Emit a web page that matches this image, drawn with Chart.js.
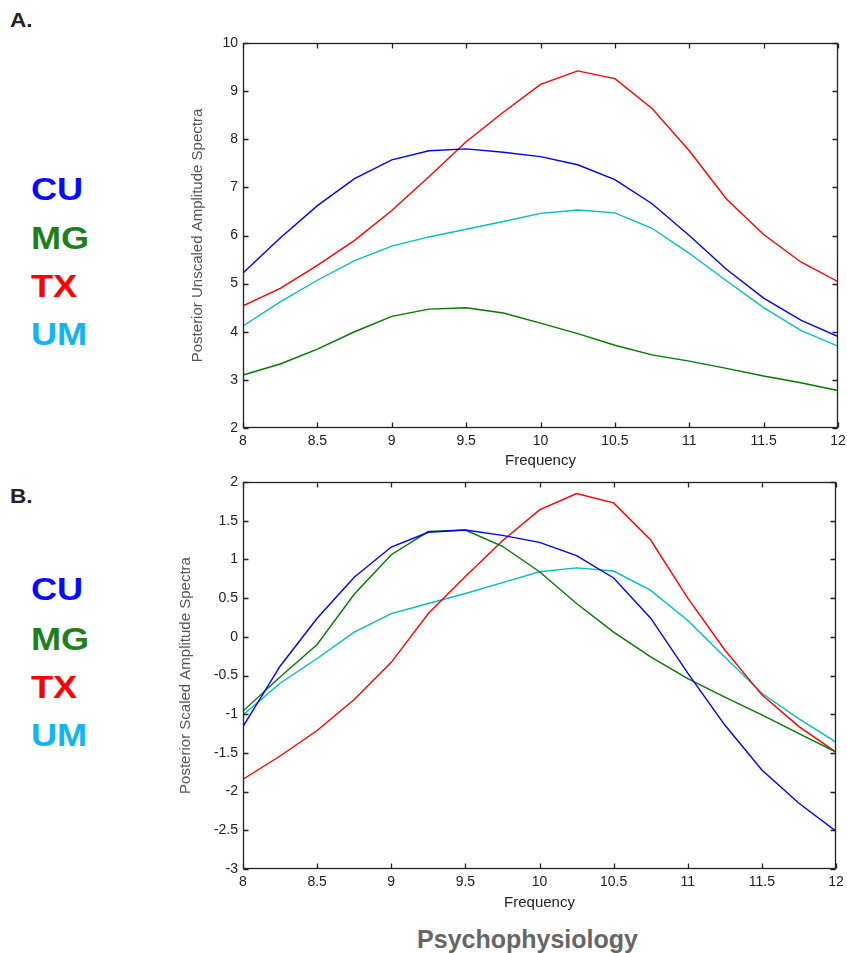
<!DOCTYPE html>
<html>
<head>
<meta charset="utf-8">
<script src="https://cdn.jsdelivr.net/npm/chart.js@4/dist/chart.umd.min.js"></script>
<style>
  body { margin: 0; background: #fff; width: 847px; height: 953px; position: relative; overflow: hidden;
         font-family: "Liberation Sans", Arial, sans-serif; }
  .box { position: absolute; left: 170px; width: 677px; height: 450px; }
  .lbl { position: absolute; font-weight: bold; white-space: nowrap; transform: scaleX(1.13); transform-origin: left top; }
  .panel { font-size: 20px; line-height: 20px; color: #222; left: 10px; }
  .grp { font-size: 32px; line-height: 32px; left: 31px; }
  .foot { position: absolute; left: 104px; width: 847px; top: 925px; text-align: center; font-weight: bold;
          font-size: 25px; color: #666; }
</style>
</head>
<body>
<div class="lbl panel" style="top:10px">A.</div>
<div class="lbl grp" style="top:173px;color:#0a0aff">CU</div>
<div class="lbl grp" style="top:222px;color:#1f7f1f">MG</div>
<div class="lbl grp" style="top:270px;color:#ff0000">TX</div>
<div class="lbl grp" style="top:318px;color:#14b4f0">UM</div>

<div class="lbl panel" style="top:486px">B.</div>
<div class="lbl grp" style="top:573px;color:#0a0aff">CU</div>
<div class="lbl grp" style="top:623px;color:#1f7f1f">MG</div>
<div class="lbl grp" style="top:671px;color:#ff0000">TX</div>
<div class="lbl grp" style="top:719px;color:#14b4f0">UM</div>

<div class="box" style="top:30px"><canvas id="chartA"></canvas></div>
<div class="box" style="top:470px"><canvas id="chartB"></canvas></div>
<div class="foot">Psychophysiology</div>

<script>
// frequency bins (Hz)
const freq = [8, 8.25, 8.5, 8.75, 9, 9.25, 9.5, 9.75, 10, 10.25, 10.5, 10.75, 11, 11.25, 11.5, 11.75, 12];

// A. posterior unscaled amplitude spectra
const unscaledCU = [5.22, 5.95, 6.62, 7.18, 7.57, 7.76, 7.80, 7.73, 7.64, 7.47, 7.16, 6.66, 6.00, 5.30, 4.70, 4.24, 3.90];
const unscaledMG = [3.10, 3.33, 3.64, 4.00, 4.32, 4.47, 4.50, 4.39, 4.18, 3.96, 3.72, 3.52, 3.39, 3.24, 3.08, 2.94, 2.78];
const unscaledTX = [4.54, 4.90, 5.38, 5.90, 6.52, 7.22, 7.95, 8.56, 9.14, 9.42, 9.26, 8.64, 7.76, 6.76, 6.02, 5.45, 5.04];
const unscaledUM = [4.12, 4.62, 5.07, 5.48, 5.78, 5.97, 6.13, 6.29, 6.46, 6.53, 6.47, 6.15, 5.63, 5.06, 4.50, 4.03, 3.70];

// B. posterior scaled amplitude spectra
const scaledCU = [-1.16, -0.38, 0.24, 0.77, 1.16, 1.35, 1.38, 1.31, 1.22, 1.05, 0.76, 0.24, -0.47, -1.14, -1.72, -2.15, -2.51];
const scaledMG = [-0.96, -0.52, -0.10, 0.55, 1.06, 1.36, 1.38, 1.17, 0.84, 0.43, 0.06, -0.26, -0.54, -0.78, -1.01, -1.25, -1.49];
const scaledTX = [-1.84, -1.54, -1.21, -0.81, -0.33, 0.30, 0.78, 1.24, 1.64, 1.85, 1.73, 1.25, 0.50, -0.17, -0.75, -1.16, -1.49];
const scaledUM = [-1.01, -0.60, -0.28, 0.06, 0.30, 0.43, 0.56, 0.70, 0.84, 0.89, 0.85, 0.60, 0.21, -0.26, -0.73, -1.06, -1.36];

const groups = ["CU", "MG", "TX", "UM"];
const lineColors = ["#0000ff", "#007a00", "#ff0000", "#00bfbf"];

Chart.defaults.font.family = '"Liberation Sans", Arial, sans-serif';

// matlab-like box with inward ticks on all four sides
const boxFrame = {
  id: "boxFrame",
  afterDraw(chart) {
    const { ctx, chartArea: a, scales: { x, y } } = chart;
    const L = Math.round(a.left) + 0.5, R = Math.round(a.right) - 0.5;
    const T = Math.round(a.top) + 0.5, B = Math.round(a.bottom) - 0.5;
    ctx.save();
    ctx.strokeStyle = "#222";
    ctx.lineWidth = 1.3;
    ctx.beginPath();
    x.ticks.forEach(t => {
      const px = Math.round(x.getPixelForValue(t.value)) + 0.5;
      ctx.moveTo(px, B); ctx.lineTo(px, B - 5);
      ctx.moveTo(px, T); ctx.lineTo(px, T + 5);
    });
    y.ticks.forEach(t => {
      const py = Math.round(y.getPixelForValue(t.value)) + 0.5;
      ctx.moveTo(L, py); ctx.lineTo(L + 5, py);
      ctx.moveTo(R, py); ctx.lineTo(R - 5, py);
    });
    ctx.stroke();
    ctx.strokeRect(L, T, R - L, B - T);
    ctx.restore();
  }
};

const plain = v => String(Math.round(v * 100) / 100);

function makeChart(id, series, yMin, yMax, yStep, yTitle, geo) {
  const datasets = series.map((vals, i) => ({
    label: groups[i],
    data: freq.map((f, k) => ({ x: f, y: vals[k] })),
    borderColor: lineColors[i],
    borderWidth: 1.4,
    pointRadius: 0,
    tension: 0,
    fill: false
  }));
  return new Chart(document.getElementById(id), {
    type: "line",
    data: { datasets },
    options: {
      responsive: true,
      maintainAspectRatio: false,
      animation: false,
      layout: { padding: { top: geo.top, right: 677 - geo.right, left: 0, bottom: 0 } },
      plugins: { legend: { display: false }, tooltip: { enabled: false } },
      scales: {
        x: {
          type: "linear", min: 8, max: 12,
          ticks: { stepSize: 0.5, padding: 5, color: "#222", font: { size: 14 }, maxRotation: 0, callback: plain },
          grid: { display: false, drawTicks: false },
          border: { display: false },
          title: { display: true, text: "Frequency", color: "#222", font: { size: 15 },
                   padding: { top: 0, bottom: geo.xTitlePad } },
          afterFit(s) { s.height = 450 - geo.bottom; s.paddingLeft = 0; s.paddingRight = 0; }
        },
        y: {
          min: yMin, max: yMax,
          ticks: { stepSize: yStep, padding: 5, color: "#222", font: { size: 14 }, callback: plain },
          grid: { display: false, drawTicks: false },
          border: { display: false },
          title: { display: true, text: yTitle, color: "#555", font: { size: 15 },
                   padding: { top: geo.yTitlePad, bottom: 0 } },
          afterFit(s) { s.width = geo.left; s.paddingTop = 0; s.paddingBottom = 0; }
        }
      }
    },
    plugins: [boxFrame]
  });
}

makeChart("chartA", [unscaledCU, unscaledMG, unscaledTX, unscaledUM], 2, 10, 1,
  "Posterior Unscaled Amplitude Spectra",
  { left: 73, right: 668, top: 13, bottom: 398, xTitlePad: 10, yTitlePad: 19 });

makeChart("chartB", [scaledCU, scaledMG, scaledTX, scaledUM], -3, 2, 0.5,
  "Posterior Scaled Amplitude Spectra",
  { left: 73, right: 666, top: 12, bottom: 399, xTitlePad: 8, yTitlePad: 7 });
</script>
</body>
</html>
